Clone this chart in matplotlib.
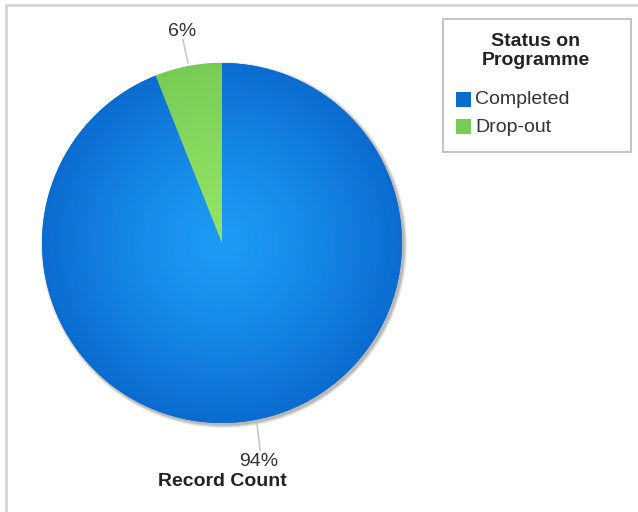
import numpy as np
import matplotlib
matplotlib.use("Agg")
from matplotlib import pyplot as plt, patches
from matplotlib.colors import to_rgb

plt.rcParams['font.family'] = ['Liberation Sans', 'DejaVu Sans']

statuses = ['Completed', 'Drop-out']
record_share = [94, 6]
inner_colors = ['#1d9cf6', '#93e466']
outer_colors = ['#0b6cd0', '#78cc55']
legend_title = 'Status on\nProgramme'
axis_title = 'Record Count'

W, H = 638, 512
fig = plt.figure(figsize=(W / 100, H / 100), dpi=100)
ax = fig.add_axes([0, 0, 1, 1])
ax.set_xlim(0, W)
ax.set_ylim(0, H)
ax.axis('off')

# frame on top and left only
ax.plot([6, 6, W], [0, H - 5, H - 5], color='#d4d4d4', lw=2, solid_capstyle='butt')

cx, cy, r = 222, H - 243, 180

# soft shadow to the lower right
for k, a in zip(range(4, 0, -1), [0.12, 0.18, 0.26, 0.4]):
    ax.add_patch(patches.Circle((cx + 2, cy - 2), r + k * 0.8, color='#9a9a9a',
                                alpha=a, lw=0, zorder=1))

wedges, _ = ax.pie(record_share, startangle=90, counterclock=False,
                   center=(cx, cy), radius=r, colors=outer_colors,
                   wedgeprops=dict(lw=0), frame=True)
ax.set_xlim(0, W)
ax.set_ylim(0, H)
ax.set_aspect('equal')
ax.axis('off')

# radial shading for each slice
gx, gy = np.meshgrid(np.linspace(cx - r, cx + r, 400), np.linspace(cy - r, cy + r, 400))
dist = np.clip(np.hypot(gx - cx, gy - cy) / r, 0, 1)[..., None] ** 1.3
for w, c0, c1 in zip(wedges, inner_colors, outer_colors):
    img = np.array(to_rgb(c0)) * (1 - dist) + np.array(to_rgb(c1)) * dist
    im = ax.imshow(img, extent=(cx - r, cx + r, cy - r, cy + r), origin='lower',
                   zorder=3, interpolation='bilinear')
    im.set_clip_path(w)
ax.set_xlim(0, W)
ax.set_ylim(0, H)

# slice labels with leader lines
ax.plot([183, 188], [H - 40, H - 63], color='#c8c8c8', lw=1.2, zorder=4)
ax.text(182, H - 31, f'{record_share[1]}%', ha='center', va='center',
        fontsize=14, color='#333333', zorder=5)
ax.plot([257, 260], [H - 424, H - 450], color='#c8c8c8', lw=1.2, zorder=4)
ax.text(259, H - 461, f'{record_share[0]}%', ha='center', va='center',
        fontsize=14, color='#333333', zorder=5)
ax.text(222, H - 481, axis_title, ha='center', va='center', fontsize=14,
        fontweight='bold', color='#222222', zorder=5)

# legend box
ax.add_patch(patches.Rectangle((443, H - 152), 188, 133, facecolor='white',
                               edgecolor='#c4c4c4', lw=1.5, zorder=5))
ax.text(536, H - 51, legend_title, ha='center', va='center', fontsize=14,
        fontweight='bold', color='#222222', linespacing=1.1, zorder=6)
for i, (name, col) in enumerate(zip(statuses, outer_colors)):
    ty = H - (100 + 27 * i)
    ax.add_patch(patches.Rectangle((456, ty - 7), 15, 15, facecolor=col, lw=0, zorder=6))
    ax.text(475, ty, name, ha='left', va='center', fontsize=14,
            color='#333333', zorder=6)

fig.savefig('out.png', dpi=100)
